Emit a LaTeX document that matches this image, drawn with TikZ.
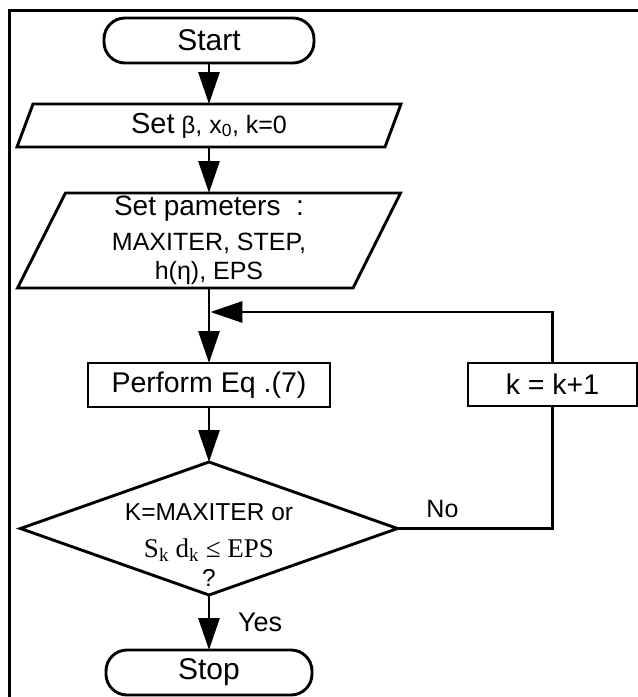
\documentclass[tikz,border=0pt]{standalone}
\usepackage{fontspec}
\setmainfont{Liberation Sans}
\newfontfamily\serifface{Liberation Serif}
\usetikzlibrary{arrows.meta}
\newcommand\fsz[1]{\fontsize{#1}{#1}\selectfont}
\begin{document}
\begin{tikzpicture}[x=1pt,y=-1pt,line width=2.9pt,
  every node/.style={inner sep=0pt,outer sep=0pt},
  term/.style={draw,rectangle,rounded corners=21pt,minimum height=45pt,font=\fsz{30}},
  procbox/.style={draw,rectangle,minimum height=44pt,font=\fsz{28.5}},
  iobox/.style={rectangle,align=center},
  arr/.style={-{Triangle[length=32pt,width=21pt]}},
  lbl/.style={font=\fsz{25}}]
\useasboundingbox (0,0) rectangle (638,697);
\fill[white] (0,0) rectangle (638,697);
% frame
\draw[line width=3pt] (9,697) -- (9,10.5) -- (638,10.5);
% nodes
\node[term,minimum width=210pt] (start) at (209,40.5) {Start};
\node[iobox,minimum width=384pt,minimum height=43pt,font=\fsz{25}] (p1) at (209,125.5)
  {{\fsz{29}Set} {\fsz{24}β}, x\textsubscript{0}, k=0};
\draw ([xshift=16pt]p1.north west) -- (p1.north east) -- ([xshift=-16pt]p1.south east) -- (p1.south west) -- cycle;
\node[iobox,minimum width=383pt,minimum height=95pt,font=\fontsize{25}{29}\selectfont] (p2) at (209,240.5)
  {{\fsz{28}Set pameters\ \ :}\\[5.5pt]MAXITER, STEP,\\h(η), EPS};
\draw ([xshift=48pt]p2.north west) -- (p2.north east) -- ([xshift=-47.5pt]p2.south east) -- (p2.south west) -- cycle;
\coordinate (j) at (209,312);
\node[procbox,minimum width=242pt] (perform) at (209,385) {Perform Eq .(7)};
\node[rectangle,minimum width=377pt,minimum height=133pt] (d) at (209,528.5) {};
\draw (d.north) -- (d.east) -- (d.south) -- (d.west) -- cycle;
\node[align=center,font=\fontsize{24.5}{29}\selectfont] (dtext) at (209,545)
  {K=MAXITER or\\[7.4pt]{\serifface\fsz{27}S\textsubscript{k} d\textsubscript{k} ≤ EPS}\\?};
\node[procbox,minimum width=169pt,minimum height=43pt] (k) at (552.5,384.5) {k = k+1};
\node[term,minimum width=206pt] (stop) at (209,672.5) {Stop};
% connectors
\draw[arr] (start) -- (p1);
\draw[arr] (p1) -- (p2);
\draw[arr] (p2) -- (perform);
\draw[arr] (perform) -- (d.north);
\draw[arr] (d.south) -- (stop) node[lbl,midway,anchor=west,xshift=29pt,font=\fsz{27}] {Yes};
\draw (d.east) -- node[lbl,pos=0.29,anchor=south,yshift=11pt] {No} (d.east -| k.south) -- (k.south);
\draw[arr,shorten >=1.4pt] (k.north) -- (k.north |- j) -- (j);
\end{tikzpicture}
\end{document}
